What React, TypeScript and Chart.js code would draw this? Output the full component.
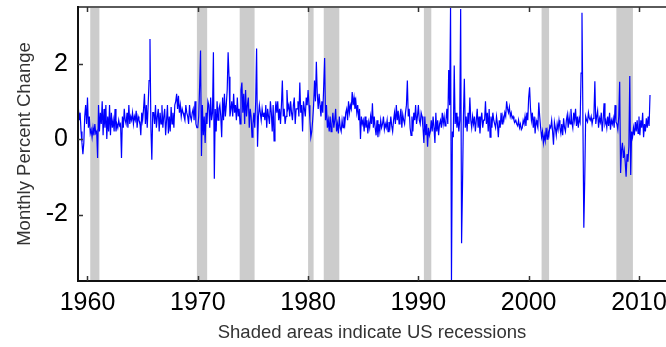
import React, { useEffect, useRef } from "react";
import { Chart, registerables } from "chart.js";

Chart.register(...registerables);

// Monthly series starts March 1959 and ends January 2011
const firstYear = 1959;
const firstMonthIndex = 2;

const values1959to1969 = [
  0.85, 0.5, 0.7, 0.2, -0.1, -0.4, -0.1, 0.6, 0.9, 0.4,
  1.1, 0.3, 0.6, 0.15, 0.25, 0.05, 0.3, 0.1, 0.4, 0.15, 0.2, -0.5,
  0.9, 0.2, 0.7, 0.4, 1.0, 0.1, 0.8, 0.3, 0.9, 0.0, 0.6, 0.2,
  0.9, 0.1, 0.7, 0.3, 0.5, 0.2, 0.8, 0.2, 0.4, 0.3, 0.5, 0.35,
  0.4, -0.5, 0.6, 0.3, 0.8, 0.5, 0.4, 0.7, 0.3, 0.9, 0.4, 0.6,
  0.5, 0.7, 0.4, 0.6, 0.5, 0.75, 0.3, 0.6, 0.5, 0.45, 0.1, 0.7,
  0.5, 0.8, 1.2, 0.4, 0.9, 0.3, 0.9, 1.55, 2.65, 0.3, -0.55, 0.7,
  0.7, 0.4, 0.9, 0.3, 0.6, 0.8, 0.2, 0.7, 0.4, 0.9, 0.3, 0.6,
  0.8, 0.1, 0.5, 0.9, 0.15, 0.6, 0.2, 0.85, 0.4, 0.7, 0.3, 0.9,
  1.0, 1.2, 0.8, 1.15, 0.7, 0.9, 0.6, 0.8, 0.7, 0.6, 0.5, 0.9,
  0.7, 0.6, 0.4, 0.9, 0.6, 0.5, 0.7, 0.8, 0.5, 1.0, 0.4, 0.3,
];

const values1970s = [
  0.3, 0.6, 1.4, 2.35, -0.45, 0.9, 0.1, 0.6, -0.1, 0.7, 0.4, 1.0,
  0.9, 0.3, 1.1, 0.5, 0.7, 2.3, -1.05, 0.8, 0.2, 1.0, 0.5, 0.8,
  0.9, 0.6, 0.05, 1.1, 0.5, 1.2, 0.6, 0.9, 1.3, 2.3, 1.65, 0.6,
  0.8, 1.0, 0.6, 1.2, 0.7, 0.9, 0.5, 1.1, 0.6, 0.8, 0.4, 1.3,
  1.5, 0.7, 1.2, 0.4, 1.3, 0.6, 0.9, 1.1, 0.3, 0.8, 0.6, 0.05,
  0.4, 0.7, 0.3, 1.0, 2.4, -0.2, 0.6, 0.9, 0.7, 0.5, 0.8, 0.6,
  0.7, 0.5, 0.9, 0.3, 0.8, 0.6, 0.4, 1.0, 0.7, 0.2, 0.9, -0.05,
  0.6, 1.0, 0.7, 1.0, 0.5, 0.8, 0.4, 0.9, 1.55, 0.6, 0.8, 0.4,
  0.6, 1.3, 0.8, 0.9, 0.6, 1.0, 0.7, 0.5, 0.9, 1.1, 0.4, 0.8,
  0.8, 1.0, 0.6, 1.5, 0.7, 0.9, 0.2, 1.0, 0.8, 0.6, 1.1, 0.9,
];

const values1980s = [
  1.3, 0.9, 0.5, 0.05, 0.2, 0.5, 0.9, 1.55, 1.0, 2.05, 1.2, 0.8,
  1.2, 0.9, 0.6, 1.0, 0.7, 1.4, 2.15, 0.5, 0.9, 0.3, 0.5, 0.2,
  0.6, 0.2, 0.4, 0.7, 0.3, 0.5, 0.8, 0.2, 0.4, 0.15, 0.6, 0.3,
  0.2, 0.5, 0.3, 0.6, 0.4, 0.7, 0.8, 0.5, 1.0, 0.7, 0.9, 0.8,
  1.25, 0.9, 1.1, 0.8, 1.0, 0.7, 0.9, 0.5, 0.8, 0.0, 0.6, 0.4,
  0.5, 0.2, 0.6, 0.3, 0.5, 0.15, 0.45, 0.3, 0.6, 0.4, 0.95, 0.3,
  0.6, 0.3, 0.1, 0.5, 0.05, 0.4, 0.2, 0.5, 0.3, 0.4, 0.6, 0.25,
  0.4, 0.3, 0.5, 0.2, 0.45, 0.3, 0.6, 0.35, 0.2, 0.5, 0.7, 0.4,
  0.9, 0.5, 0.75, 0.4, 0.6, 0.8, 0.3, 0.65, 0.5, 0.4, 0.7, 0.9,
  1.55, 0.6, 0.8, 0.3, 0.1, 0.6, 0.2, 0.7, 0.5, 0.9, 0.4, 0.6,
];

const values1990s = [
  0.9, 0.5, 0.4, 0.7, 0.6, 0.3, -0.1, 0.6, 0.1, 0.4, -0.2, 0.3,
  0.1, 0.2, 0.5, 0.2, 0.6, 0.3, -0.1, 0.7, 0.2, 0.5, 0.1, 0.4,
  0.5, 0.3, 0.7, 0.4, 0.6, 0.35, 0.5, 0.8, 0.4, 1.83, 0.9, 3.5,
  -3.76, 0.2, 0.05, 1.95, 0.4, 0.7, 0.3, 0.6, 0.2, 0.5, 3.45, -2.76,
  -1.25, 0.6, 1.6, 0.3, 0.6, 0.2, 0.7, 0.4, 1.1, 0.5, 0.3, 0.6,
  0.4, 0.6, 0.2, 0.5, 0.8, 0.3, 0.6, 0.15, 0.5, 0.7, 0.3, 0.5,
  0.5, 1.0, 0.4, 0.7, 0.2, 0.8, 0.05, 0.6, 0.3, 0.7, 0.5, 0.4,
  0.3, 0.6, 0.4, 0.05, 0.5, 0.3, 0.7, 0.4, 0.6, 0.5, 0.7, 0.6,
  1.0, 0.8, 0.7, 0.85, 0.6, 0.7, 0.55, 0.6, 0.5, 0.45, 0.5, 0.4,
  0.35, 0.5, 0.3, 0.4, 0.25, 0.3, 0.5, 0.4, 0.6, 0.35, 0.7, 0.5,
];

const values2000s = [
  1.1, 1.37, 0.8, 0.5, 0.7, 0.3, 0.6, 0.15, 0.5, 0.4, 0.3, 0.97,
  0.6, 0.3, 0.05, 0.2, -0.1, 0.1, -0.05, 0.3, 0.0, 0.2, 0.1, 0.35,
  0.3, 0.5, 0.2, -0.15, 0.45, 0.3, 0.1, 0.4, 0.25, 0.5, 0.3, 0.15,
  0.4, 0.1, 0.55, 0.3, 0.2, 0.5, 0.65, 0.3, 0.6, 0.4, 0.8, 0.45,
  0.3, 0.7, 0.5, 0.8, 0.35, 0.6, 0.3, 0.55, 0.45, 1.75, 3.35, 0.5,
  -2.35, -1.05, 0.6, 0.5, 0.45, 0.7, 0.55, 0.5, 0.6, 0.4, 0.55, 0.65,
  1.53, 0.4, 0.6, 0.75, 0.3, 0.55, 0.45, 0.7, 0.2, 0.5, 0.95, 0.4,
  0.5, 0.3, 0.6, 0.35, 0.7, 0.25, 0.5, 0.4, 0.55, 0.3, 0.9, 0.45,
  0.4, 0.25, 0.6, 1.52, -0.9, -0.3, -0.1, -0.5, -0.3, -0.6, -1.0, -0.4,
  -0.6, -0.2, 1.67, -0.95, 0.2, 0.05, 0.3, 0.1, 0.45, 0.2, 0.5, 0.15,
];

const values2010s = [
  0.6, 0.1, 0.5, 0.3, 0.7, 0.05, 0.4, 0.2, 0.55, 0.3, 0.6, 0.35,
  1.17,
];

// Recession periods (decimal years)
const recessionStarts = [1960.25, 1969.92, 1973.8, 1980.0, 1981.42, 1990.5, 2001.17, 2007.95];
const recessionEnds = [1961.08, 1970.85, 1975.15, 1980.5, 1982.83, 1991.17, 2001.85, 2009.45];

const xTickYears = [1960, 1970, 1980, 1990, 2000, 2010];
const yTickValues = [-2, 0, 2];

const xTitle = "Shaded areas indicate US recessions";
const yTitle = "Monthly Percent Change";

const X_MIN = 1959.14;
const X_MAX = 2012.45;
const Y_MIN = -3.76;
const Y_MAX = 3.5;

const FONT = "'Liberation Sans', Arial, Helvetica, sans-serif";

const recessionPlugin = {
  id: "recessions",
  beforeDatasetsDraw(chart: any) {
    const { ctx, chartArea: a, scales } = chart;
    const xs = scales.x;
    ctx.save();
    ctx.fillStyle = "#cccccc";
    recessionStarts.forEach((s, i) => {
      const x0 = xs.getPixelForValue(s);
      const x1 = xs.getPixelForValue(recessionEnds[i]);
      ctx.fillRect(x0, a.top, x1 - x0, a.bottom - a.top);
    });
    ctx.restore();
  },
  afterDraw(chart: any) {
    const { ctx, chartArea: a, scales } = chart;
    const xs = scales.x;
    const ys = scales.y;
    ctx.save();
    // frame
    ctx.fillStyle = "#5a5a5a";
    ctx.fillRect(a.left - 1, a.top - 1, a.right - a.left + 1, 2);
    ctx.fillStyle = "#111111";
    ctx.fillRect(a.left - 1, a.top - 1, 2, a.bottom - a.top + 2);
    ctx.fillRect(a.left - 1, a.bottom - 1, a.right - a.left + 1, 2);
    // inward ticks
    ctx.lineWidth = 1.5;
    ctx.strokeStyle = "#333333";
    ctx.beginPath();
    xTickYears.forEach((v) => {
      const px = Math.round(xs.getPixelForValue(v)) + 0.5;
      ctx.moveTo(px, a.bottom);
      ctx.lineTo(px, a.bottom - 5);
      ctx.moveTo(px, a.top);
      ctx.lineTo(px, a.top + 5);
    });
    yTickValues.forEach((v) => {
      const py = Math.round(ys.getPixelForValue(v)) + 0.5;
      ctx.moveTo(a.left, py);
      ctx.lineTo(a.left + 5, py);
    });
    ctx.stroke();
    ctx.restore();
  },
};

export default function App() {
  const canvasRef = useRef<HTMLCanvasElement | null>(null);

  useEffect(() => {
    const canvas = canvasRef.current;
    if (!canvas) return;
    const all = [
      ...values1959to1969,
      ...values1970s,
      ...values1980s,
      ...values1990s,
      ...values2000s,
      ...values2010s,
    ];
    const points = all.map((v, i) => ({ x: firstYear + (firstMonthIndex + i) / 12, y: v }));

    const chart = new Chart(canvas, {
      type: "line",
      data: {
        datasets: [
          {
            data: points,
            borderColor: "#0000ff",
            borderWidth: 1.2,
            pointRadius: 0,
            tension: 0,
            fill: false,
          },
        ],
      },
      options: {
        animation: false,
        responsive: false,
        devicePixelRatio: 1,
        parsing: false,
        normalized: true,
        layout: { padding: { top: 7, right: 0, bottom: 0, left: 0 } },
        plugins: {
          legend: { display: false },
          tooltip: { enabled: false },
        },
        scales: {
          x: {
            type: "linear",
            min: X_MIN,
            max: X_MAX,
            grid: { display: false, drawTicks: false },
            border: { display: false },
            afterBuildTicks: (scale: any) => {
              scale.ticks = xTickYears.map((v) => ({ value: v }));
            },
            afterFit: (scale: any) => {
              scale.height = 66;
              scale.paddingLeft = 0;
              scale.paddingRight = 0;
            },
            ticks: {
              autoSkip: false,
              maxRotation: 0,
              minRotation: 0,
              padding: 7,
              color: "#000000",
              font: { family: FONT, size: 25 },
              callback: (v: any) => String(v),
            },
            title: {
              display: true,
              text: xTitle,
              color: "#333333",
              font: { family: FONT, size: 18.5 },
              padding: { top: 0, bottom: 3 },
            },
          },
          y: {
            type: "linear",
            min: Y_MIN,
            max: Y_MAX,
            grid: { display: false, drawTicks: false },
            border: { display: false },
            afterBuildTicks: (scale: any) => {
              scale.ticks = yTickValues.map((v) => ({ value: v }));
            },
            afterFit: (scale: any) => {
              scale.width = 78;
              scale.paddingTop = 0;
              scale.paddingBottom = 0;
            },
            ticks: {
              padding: 10,
              color: "#000000",
              font: { family: FONT, size: 25 },
              callback: (v: any) => String(v),
            },
            title: {
              display: true,
              text: yTitle,
              color: "#333333",
              font: { family: FONT, size: 18.5 },
              padding: { top: 14, bottom: 0 },
            },
          },
        },
      },
      plugins: [recessionPlugin],
    });

    return () => {
      chart.destroy();
    };
  }, []);

  return (
    <div style={{ position: "fixed", left: 0, top: 0, width: 666, height: 347, background: "#ffffff" }}>
      <canvas ref={canvasRef} width={666} height={347} style={{ width: 666, height: 347, display: "block" }} />
    </div>
  );
}
